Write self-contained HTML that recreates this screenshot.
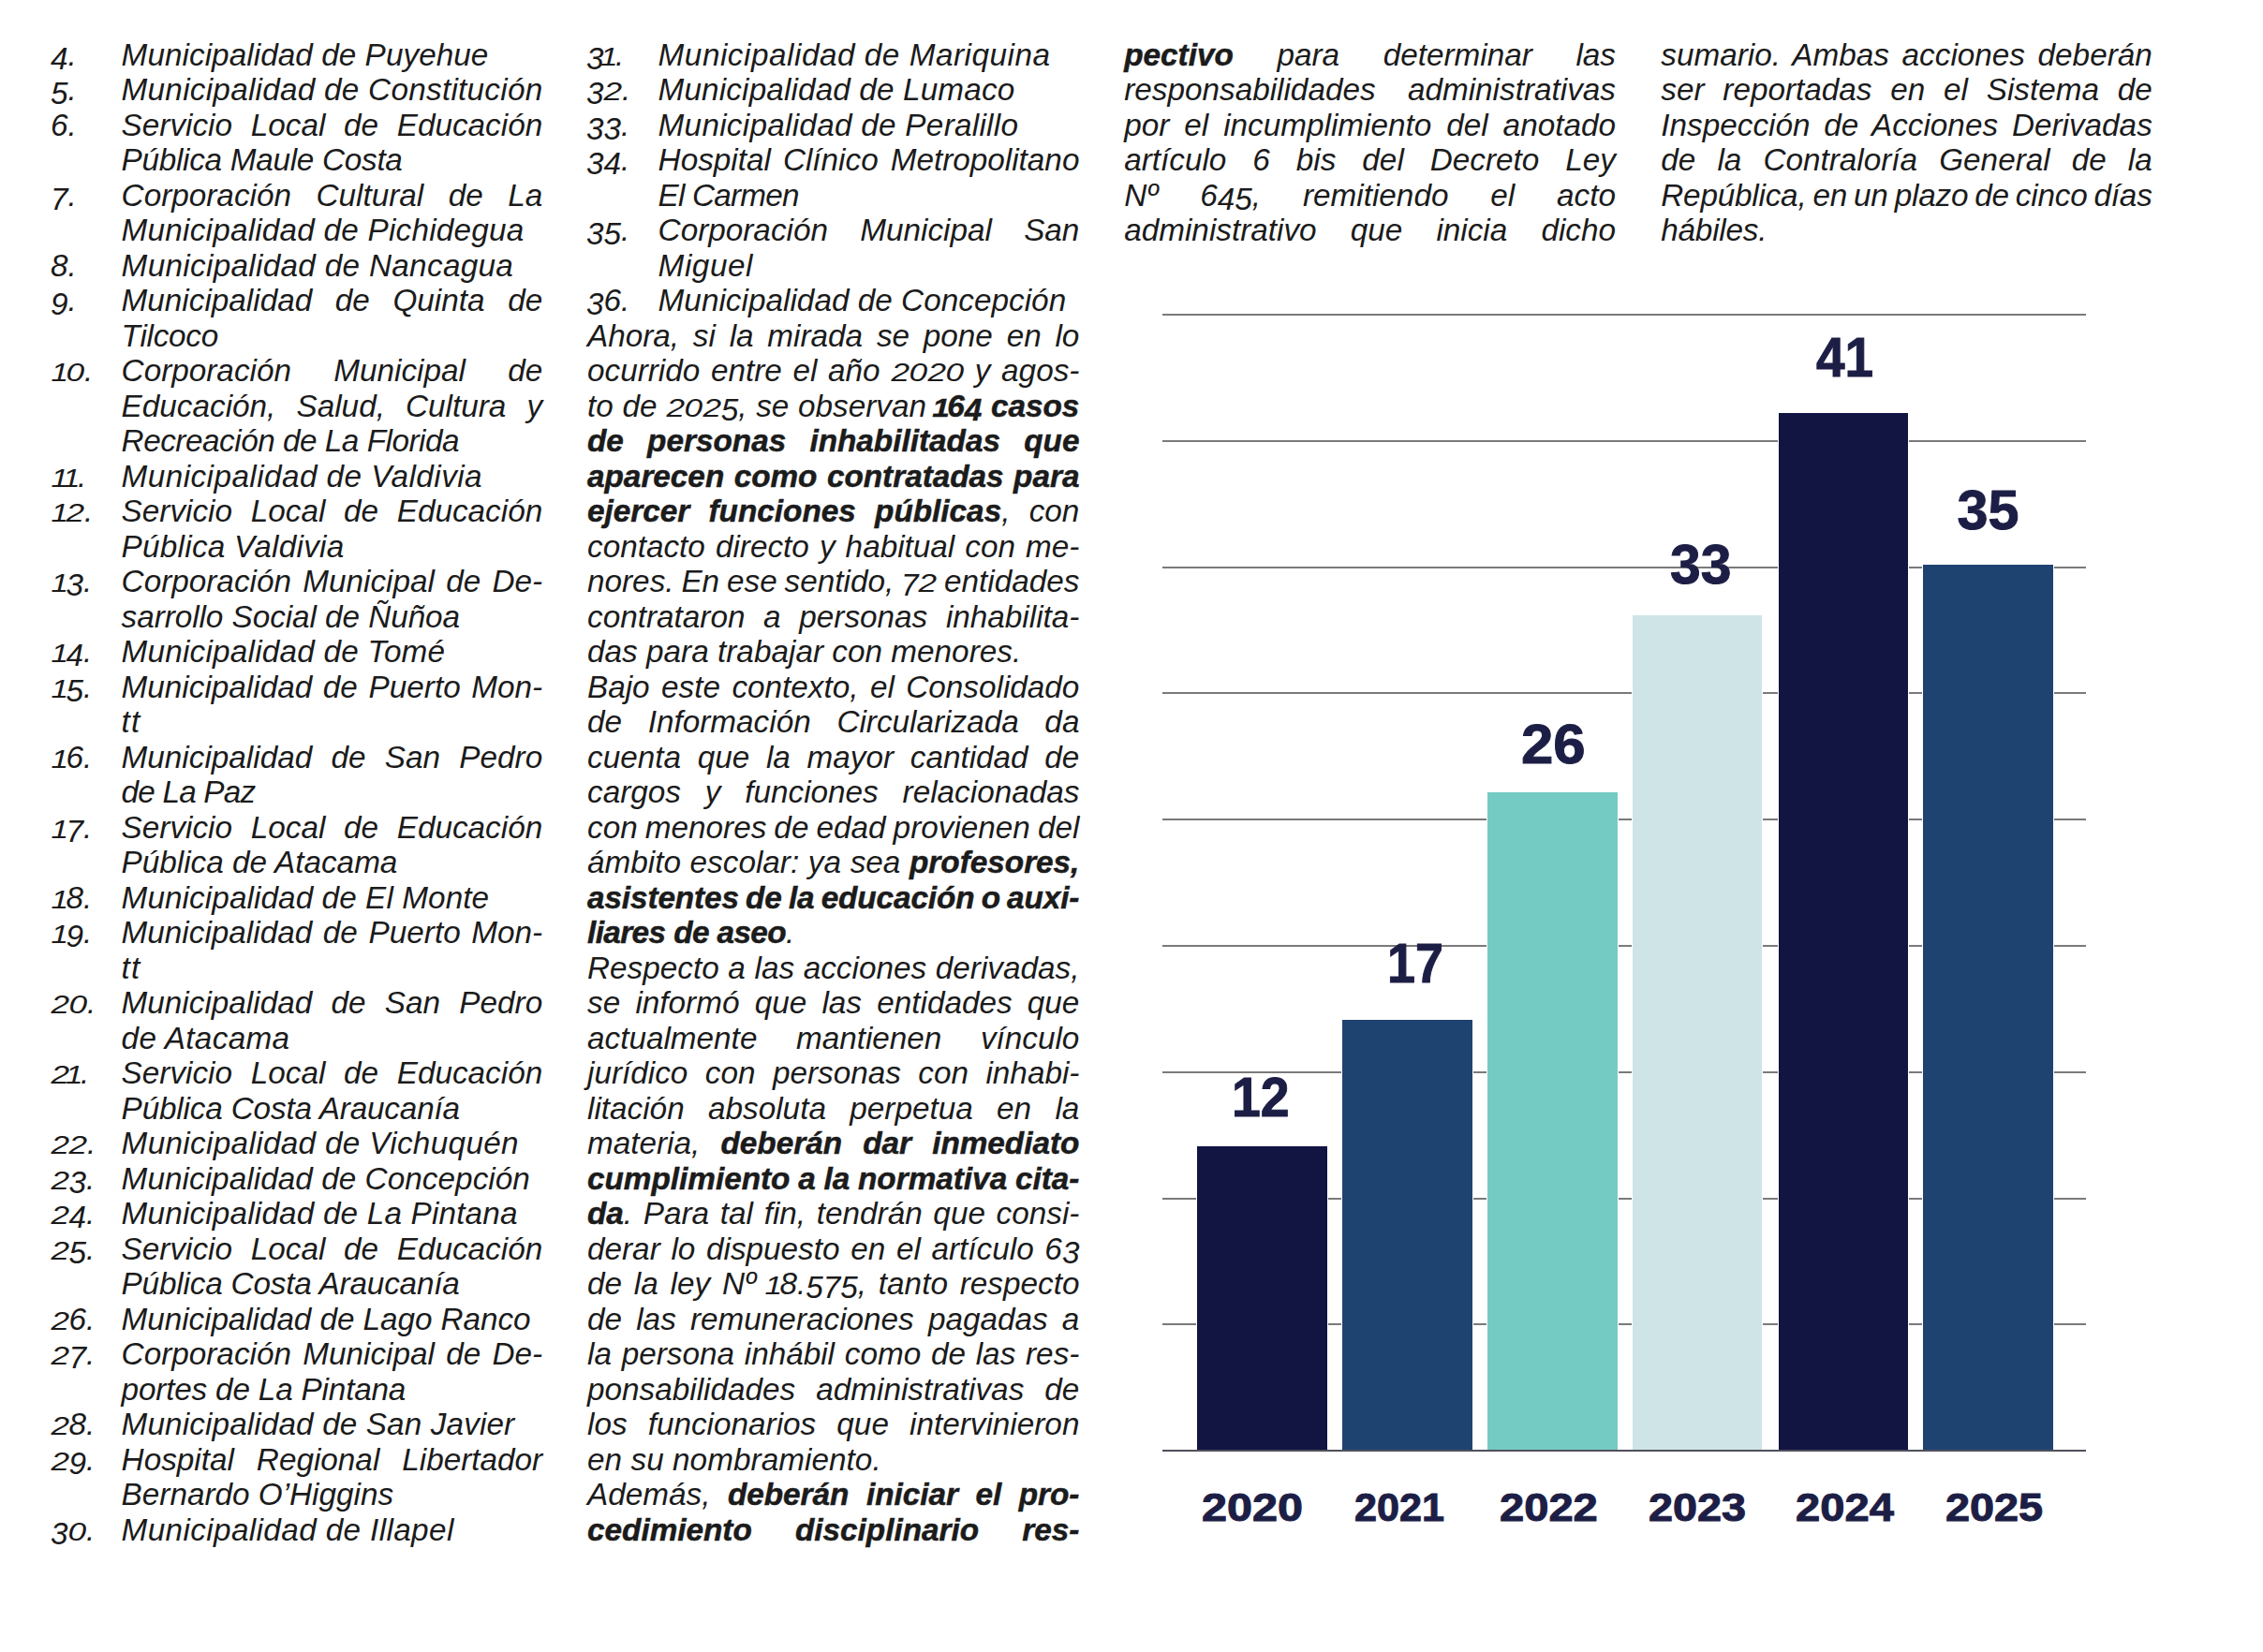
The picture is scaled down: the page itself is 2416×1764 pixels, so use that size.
<!DOCTYPE html>
<html lang="es"><head><meta charset="utf-8"><title>Contraloría</title>
<style>
html,body{margin:0;padding:0;background:#fff;}
main,article,figure{margin:0;padding:0;display:block;}
body{width:2416px;height:1764px;position:relative;overflow:hidden;font-family:"Liberation Sans",sans-serif;}
.t{position:absolute;white-space:pre;font-style:italic;font-size:33.3px;line-height:37.5px;height:37.5px;color:#1b1b1b;letter-spacing:0.0px;}
.t b{font-weight:bold;-webkit-text-stroke:0.5px #1b1b1b;}
.o0,.o1,.od{display:inline-block;line-height:37.5px;height:37.5px;vertical-align:baseline;transform-origin:50% 30.29px;}
.o0{transform:scale(1.06,.85);margin:0 .5px;}
.o1{transform:scaleY(.85);margin:0 -2.5px 0 -3.5px;}
.od{transform:translateY(3.8px);}

.g{position:absolute;left:1241.4px;width:985.2px;height:1.5px;background:#7a7a7a;}
.g.ax{background:#50505c;height:2px;}
.bar{position:absolute;box-shadow:0 0 0 1px #fff;}
.v,.y{position:absolute;font-weight:bold;color:#1d1e45;-webkit-text-stroke:1px #1d1e45;white-space:nowrap;line-height:1;transform-origin:0 0;}
.v{font-size:59.3px;}
.y{font-size:42.3px;}
</style></head>
<body>
<main>
<article class="texto">
<div class="t" style="left:129.6px;top:39.81px;letter-spacing:0.052px;">Municipalidad de Puyehue</div>
<div class="t" style="left:129.6px;top:77.31px;letter-spacing:0.258px;">Municipalidad de Constitución</div>
<div class="t" style="left:129.6px;top:114.81px;word-spacing:10.43px;">Servicio Local de Educación</div>
<div class="t" style="left:129.6px;top:152.31px;letter-spacing:-0.283px;">Pública Maule Costa</div>
<div class="t" style="left:129.6px;top:189.81px;word-spacing:17.22px;">Corporación Cultural de La</div>
<div class="t" style="left:129.6px;top:227.31px;letter-spacing:0.223px;">Municipalidad de Pichidegua</div>
<div class="t" style="left:129.6px;top:264.81px;letter-spacing:0.306px;">Municipalidad de Nancagua</div>
<div class="t" style="left:129.6px;top:302.31px;word-spacing:15.36px;">Municipalidad de Quinta de</div>
<div class="t" style="left:129.6px;top:339.81px;letter-spacing:-0.265px;">Tilcoco</div>
<div class="t" style="left:129.6px;top:377.31px;word-spacing:36.01px;">Corporación Municipal de</div>
<div class="t" style="left:129.6px;top:414.81px;word-spacing:12.90px;">Educación, Salud, Cultura y</div>
<div class="t" style="left:129.6px;top:452.31px;letter-spacing:-0.480px;">Recreación de La Florida</div>
<div class="t" style="left:129.6px;top:489.81px;letter-spacing:0.437px;">Municipalidad de Valdivia</div>
<div class="t" style="left:129.6px;top:527.31px;word-spacing:10.43px;">Servicio Local de Educación</div>
<div class="t" style="left:129.6px;top:564.81px;letter-spacing:0.258px;">Pública Valdivia</div>
<div class="t" style="left:129.6px;top:602.31px;word-spacing:3.04px;">Corporación Municipal de De-</div>
<div class="t" style="left:129.6px;top:639.81px;letter-spacing:-0.056px;">sarrollo Social de Ñuñoa</div>
<div class="t" style="left:129.6px;top:677.31px;letter-spacing:0.215px;">Municipalidad de Tomé</div>
<div class="t" style="left:129.6px;top:714.81px;word-spacing:2.41px;">Municipalidad de Puerto Mon-</div>
<div class="t" style="left:129.6px;top:752.31px;letter-spacing:1.200px;">tt</div>
<div class="t" style="left:129.6px;top:789.81px;word-spacing:11.03px;">Municipalidad de San Pedro</div>
<div class="t" style="left:129.6px;top:827.31px;letter-spacing:-0.800px;">de La Paz</div>
<div class="t" style="left:129.6px;top:864.81px;word-spacing:10.43px;">Servicio Local de Educación</div>
<div class="t" style="left:129.6px;top:902.31px;letter-spacing:-0.007px;">Pública de Atacama</div>
<div class="t" style="left:129.6px;top:939.81px;letter-spacing:0.081px;">Municipalidad de El Monte</div>
<div class="t" style="left:129.6px;top:977.31px;word-spacing:2.41px;">Municipalidad de Puerto Mon-</div>
<div class="t" style="left:129.6px;top:1014.81px;letter-spacing:1.200px;">tt</div>
<div class="t" style="left:129.6px;top:1052.31px;word-spacing:11.03px;">Municipalidad de San Pedro</div>
<div class="t" style="left:129.6px;top:1089.81px;letter-spacing:0.339px;">de Atacama</div>
<div class="t" style="left:129.6px;top:1127.31px;word-spacing:10.43px;">Servicio Local de Educación</div>
<div class="t" style="left:129.6px;top:1164.81px;letter-spacing:-0.170px;">Pública Costa Araucanía</div>
<div class="t" style="left:129.6px;top:1202.31px;letter-spacing:0.324px;">Municipalidad de Vichuquén</div>
<div class="t" style="left:129.6px;top:1239.81px;letter-spacing:0.050px;">Municipalidad de Concepción</div>
<div class="t" style="left:129.6px;top:1277.31px;letter-spacing:0.175px;">Municipalidad de La Pintana</div>
<div class="t" style="left:129.6px;top:1314.81px;word-spacing:10.43px;">Servicio Local de Educación</div>
<div class="t" style="left:129.6px;top:1352.31px;letter-spacing:-0.180px;">Pública Costa Araucanía</div>
<div class="t" style="left:129.6px;top:1389.81px;letter-spacing:-0.070px;">Municipalidad de Lago Ranco</div>
<div class="t" style="left:129.6px;top:1427.31px;word-spacing:3.04px;">Corporación Municipal de De-</div>
<div class="t" style="left:129.6px;top:1464.81px;letter-spacing:-0.185px;">portes de La Pintana</div>
<div class="t" style="left:129.6px;top:1502.31px;letter-spacing:0.120px;">Municipalidad de San Javier</div>
<div class="t" style="left:129.6px;top:1539.81px;word-spacing:14.71px;">Hospital Regional Libertador</div>
<div class="t" style="left:129.6px;top:1577.31px;letter-spacing:-0.005px;">Bernardo O’Higgins</div>
<div class="t" style="left:129.6px;top:1614.81px;letter-spacing:0.372px;">Municipalidad de Illapel</div>
<div class="t" style="left:702.6px;top:39.81px;letter-spacing:0.526px;">Municipalidad de Mariquina</div>
<div class="t" style="left:702.6px;top:77.31px;letter-spacing:0.136px;">Municipalidad de Lumaco</div>
<div class="t" style="left:702.6px;top:114.81px;letter-spacing:0.272px;">Municipalidad de Peralillo</div>
<div class="t" style="left:702.6px;top:152.31px;word-spacing:3.74px;">Hospital Clínico Metropolitano</div>
<div class="t" style="left:702.6px;top:189.81px;letter-spacing:-0.800px;">El Carmen</div>
<div class="t" style="left:702.6px;top:227.31px;word-spacing:25.01px;">Corporación Municipal San</div>
<div class="t" style="left:702.6px;top:264.81px;letter-spacing:0.561px;">Miguel</div>
<div class="t" style="left:702.6px;top:302.31px;letter-spacing:0.023px;">Municipalidad de Concepción</div>
<div class="t" style="left:627.0px;top:339.81px;word-spacing:5.51px;">Ahora, si la mirada se pone en lo</div>
<div class="t" style="left:627.0px;top:377.31px;word-spacing:2.36px;">ocurrido entre el año <span class="o0">2</span><span class="o0">0</span><span class="o0">2</span><span class="o0">0</span> y agos-</div>
<div class="t" style="left:627.0px;top:414.81px;word-spacing:0.42px;">to de <span class="o0">2</span><span class="o0">0</span><span class="o0">2</span><span class="od">5</span>, se observan <b><span class="o1">1</span>6<span class="od">4</span> casos</b></div>
<div class="t" style="left:627.0px;top:452.31px;word-spacing:16.01px;"><b>de personas inhabilitadas que</b></div>
<div class="t" style="left:627.0px;top:489.81px;word-spacing:1.18px;"><b>aparecen como contratadas para</b></div>
<div class="t" style="left:627.0px;top:527.31px;word-spacing:11.04px;"><b>ejercer funciones públicas</b>, con</div>
<div class="t" style="left:627.0px;top:564.81px;word-spacing:1.80px;">contacto directo y habitual con me-</div>
<div class="t" style="left:627.0px;top:602.31px;word-spacing:-1.38px;">nores. En ese sentido, <span class="od">7</span><span class="o0">2</span> entidades</div>
<div class="t" style="left:627.0px;top:639.81px;word-spacing:10.40px;">contrataron a personas inhabilita-</div>
<div class="t" style="left:627.0px;top:677.31px;letter-spacing:0.017px;">das para trabajar con menores.</div>
<div class="t" style="left:627.0px;top:714.81px;word-spacing:3.16px;">Bajo este contexto, el Consolidado</div>
<div class="t" style="left:627.0px;top:752.31px;word-spacing:18.44px;">de Información Circularizada da</div>
<div class="t" style="left:627.0px;top:789.81px;word-spacing:8.45px;">cuenta que la mayor cantidad de</div>
<div class="t" style="left:627.0px;top:827.31px;word-spacing:16.57px;">cargos y funciones relacionadas</div>
<div class="t" style="left:627.0px;top:864.81px;word-spacing:-1.18px;">con menores de edad provienen del</div>
<div class="t" style="left:627.0px;top:902.31px;word-spacing:0.41px;">ámbito escolar: ya sea <b>profesores,</b></div>
<div class="t" style="left:627.0px;top:939.81px;letter-spacing:-0.094px;word-spacing:-2.00px;"><b>asistentes de la educación o auxi-</b></div>
<div class="t" style="left:627.0px;top:977.31px;letter-spacing:-0.589px;"><b>liares de aseo</b>.</div>
<div class="t" style="left:627.0px;top:1014.81px;word-spacing:0.40px;">Respecto a las acciones derivadas,</div>
<div class="t" style="left:627.0px;top:1052.31px;word-spacing:6.97px;">se informó que las entidades que</div>
<div class="t" style="left:627.0px;top:1089.81px;word-spacing:32.25px;">actualmente mantienen vínculo</div>
<div class="t" style="left:627.0px;top:1127.31px;word-spacing:9.19px;">jurídico con personas con inhabi-</div>
<div class="t" style="left:627.0px;top:1164.81px;word-spacing:16.11px;">litación absoluta perpetua en la</div>
<div class="t" style="left:627.0px;top:1202.31px;word-spacing:12.92px;">materia, <b>deberán dar inmediato</b></div>
<div class="t" style="left:627.0px;top:1239.81px;word-spacing:-0.49px;"><b>cumplimiento a la normativa cita-</b></div>
<div class="t" style="left:627.0px;top:1277.31px;word-spacing:2.43px;"><b>da</b>. Para tal fin, tendrán que consi-</div>
<div class="t" style="left:627.0px;top:1314.81px;word-spacing:2.42px;">derar lo dispuesto en el artículo 6<span class="od">3</span></div>
<div class="t" style="left:627.0px;top:1352.31px;word-spacing:3.54px;">de la ley Nº <span class="o1">1</span>8.<span class="od">5</span><span class="od">7</span><span class="od">5</span>, tanto respecto</div>
<div class="t" style="left:627.0px;top:1389.81px;word-spacing:5.94px;">de las remuneraciones pagadas a</div>
<div class="t" style="left:627.0px;top:1427.31px;word-spacing:1.50px;">la persona inhábil como de las res-</div>
<div class="t" style="left:627.0px;top:1464.81px;word-spacing:12.82px;">ponsabilidades administrativas de</div>
<div class="t" style="left:627.0px;top:1502.31px;word-spacing:12.87px;">los funcionarios que intervinieron</div>
<div class="t" style="left:627.0px;top:1539.81px;letter-spacing:0.050px;">en su nombramiento.</div>
<div class="t" style="left:627.0px;top:1577.31px;word-spacing:9.22px;">Además, <b>deberán iniciar el pro-</b></div>
<div class="t" style="left:627.0px;top:1614.81px;word-spacing:36.96px;"><b>cedimiento disciplinario res-</b></div>
<div class="t" style="left:1200.2px;top:39.81px;word-spacing:37.37px;"><b>pectivo</b> para determinar las</div>
<div class="t" style="left:1200.2px;top:77.31px;word-spacing:25.08px;">responsabilidades administrativas</div>
<div class="t" style="left:1200.2px;top:114.81px;word-spacing:6.72px;">por el incumplimiento del anotado</div>
<div class="t" style="left:1200.2px;top:152.31px;word-spacing:18.71px;">artículo 6 bis del Decreto Ley</div>
<div class="t" style="left:1200.2px;top:189.81px;word-spacing:35.61px;">Nº 6<span class="od">4</span><span class="od">5</span>, remitiendo el acto</div>
<div class="t" style="left:1200.2px;top:227.31px;word-spacing:26.87px;">administrativo que inicia dicho</div>
<div class="t" style="left:1773.3px;top:39.81px;word-spacing:4.35px;">sumario. Ambas acciones deberán</div>
<div class="t" style="left:1773.3px;top:77.31px;word-spacing:10.51px;">ser reportadas en el Sistema de</div>
<div class="t" style="left:1773.3px;top:114.81px;word-spacing:5.58px;">Inspección de Acciones Derivadas</div>
<div class="t" style="left:1773.3px;top:152.31px;word-spacing:13.83px;">de la Contraloría General de la</div>
<div class="t" style="left:1773.3px;top:189.81px;letter-spacing:-0.221px;word-spacing:-2.00px;">República, en un plazo de cinco días</div>
<div class="t" style="left:1773.3px;top:227.31px;letter-spacing:-0.240px;">hábiles.</div>
<div class="t" style="left:54.0px;top:39.81px;"><span class="od">4</span>.</div>
<div class="t" style="left:54.0px;top:77.31px;"><span class="od">5</span>.</div>
<div class="t" style="left:54.0px;top:114.81px;">6.</div>
<div class="t" style="left:54.0px;top:189.81px;"><span class="od">7</span>.</div>
<div class="t" style="left:54.0px;top:264.81px;">8.</div>
<div class="t" style="left:54.0px;top:302.31px;"><span class="od">9</span>.</div>
<div class="t" style="left:58.0px;top:377.31px;"><span class="o1">1</span><span class="o0">0</span>.</div>
<div class="t" style="left:58.0px;top:489.81px;"><span class="o1">1</span><span class="o1">1</span>.</div>
<div class="t" style="left:58.0px;top:527.31px;"><span class="o1">1</span><span class="o0">2</span>.</div>
<div class="t" style="left:58.0px;top:602.31px;"><span class="o1">1</span><span class="od">3</span>.</div>
<div class="t" style="left:58.0px;top:677.31px;"><span class="o1">1</span><span class="od">4</span>.</div>
<div class="t" style="left:58.0px;top:714.81px;"><span class="o1">1</span><span class="od">5</span>.</div>
<div class="t" style="left:58.0px;top:789.81px;"><span class="o1">1</span>6.</div>
<div class="t" style="left:58.0px;top:864.81px;"><span class="o1">1</span><span class="od">7</span>.</div>
<div class="t" style="left:58.0px;top:939.81px;"><span class="o1">1</span>8.</div>
<div class="t" style="left:58.0px;top:977.31px;"><span class="o1">1</span><span class="od">9</span>.</div>
<div class="t" style="left:54.0px;top:1052.31px;"><span class="o0">2</span><span class="o0">0</span>.</div>
<div class="t" style="left:54.0px;top:1127.31px;"><span class="o0">2</span><span class="o1">1</span>.</div>
<div class="t" style="left:54.0px;top:1202.31px;"><span class="o0">2</span><span class="o0">2</span>.</div>
<div class="t" style="left:54.0px;top:1239.81px;"><span class="o0">2</span><span class="od">3</span>.</div>
<div class="t" style="left:54.0px;top:1277.31px;"><span class="o0">2</span><span class="od">4</span>.</div>
<div class="t" style="left:54.0px;top:1314.81px;"><span class="o0">2</span><span class="od">5</span>.</div>
<div class="t" style="left:54.0px;top:1389.81px;"><span class="o0">2</span>6.</div>
<div class="t" style="left:54.0px;top:1427.31px;"><span class="o0">2</span><span class="od">7</span>.</div>
<div class="t" style="left:54.0px;top:1502.31px;"><span class="o0">2</span>8.</div>
<div class="t" style="left:54.0px;top:1539.81px;"><span class="o0">2</span><span class="od">9</span>.</div>
<div class="t" style="left:54.0px;top:1614.81px;"><span class="od">3</span><span class="o0">0</span>.</div>
<div class="t" style="left:626.0px;top:39.81px;"><span class="od">3</span><span class="o1">1</span>.</div>
<div class="t" style="left:626.0px;top:77.31px;"><span class="od">3</span><span class="o0">2</span>.</div>
<div class="t" style="left:626.0px;top:114.81px;"><span class="od">3</span><span class="od">3</span>.</div>
<div class="t" style="left:626.0px;top:152.31px;"><span class="od">3</span><span class="od">4</span>.</div>
<div class="t" style="left:626.0px;top:227.31px;"><span class="od">3</span><span class="od">5</span>.</div>
<div class="t" style="left:626.0px;top:302.31px;"><span class="od">3</span>6.</div>
</article>
<figure class="grafico">
<div class="g" style="top:335px"></div>
<div class="g" style="top:470px"></div>
<div class="g" style="top:605px"></div>
<div class="g" style="top:739px"></div>
<div class="g" style="top:874px"></div>
<div class="g" style="top:1009px"></div>
<div class="g" style="top:1144px"></div>
<div class="g" style="top:1279px"></div>
<div class="g" style="top:1413px"></div>
<div class="bar" style="left:1278.0px;top:1224.1px;width:139.2px;height:325.0px;background:#121442"></div>
<div class="bar" style="left:1433.4px;top:1089.1px;width:138.5px;height:460.0px;background:#1f4371"></div>
<div class="bar" style="left:1587.9px;top:846.1px;width:139.6px;height:703.0px;background:#74cbc3"></div>
<div class="bar" style="left:1743.3px;top:657.1px;width:137.9px;height:892.0px;background:#cee4e7"></div>
<div class="bar" style="left:1898.5px;top:441.1px;width:138.9px;height:1108.0px;background:#121442"></div>
<div class="bar" style="left:2053.0px;top:603.1px;width:139.3px;height:946.0px;background:#1f4371"></div>
<div class="g ax" style="top:1548px"></div>
<div class="v" style="left:1315.06px;top:1141.53px;transform:scaleX(0.9350)">12</div>
<div class="v" style="left:1480.55px;top:998.67px;transform:scaleX(0.9074)">17</div>
<div class="v" style="left:1623.84px;top:764.88px;transform:scaleX(1.0422)">26</div>
<div class="v" style="left:1783.26px;top:572.50px;transform:scaleX(0.9921)">33</div>
<div class="v" style="left:1938.64px;top:351.68px;transform:scaleX(0.9261)">41</div>
<div class="v" style="left:2089.45px;top:514.80px;transform:scaleX(1.0000)">35</div>
<div class="y" style="left:1282.85px;top:1588.90px;transform:scaleX(1.1488)">2020</div>
<div class="y" style="left:1446.08px;top:1588.90px;transform:scaleX(1.0205)">2021</div>
<div class="y" style="left:1600.79px;top:1588.90px;transform:scaleX(1.1141)">2022</div>
<div class="y" style="left:1760.09px;top:1588.90px;transform:scaleX(1.1065)">2023</div>
<div class="y" style="left:1917.09px;top:1588.90px;transform:scaleX(1.1142)">2024</div>
<div class="y" style="left:2076.59px;top:1588.90px;transform:scaleX(1.1070)">2025</div>
</figure>
</main>
</body></html>
